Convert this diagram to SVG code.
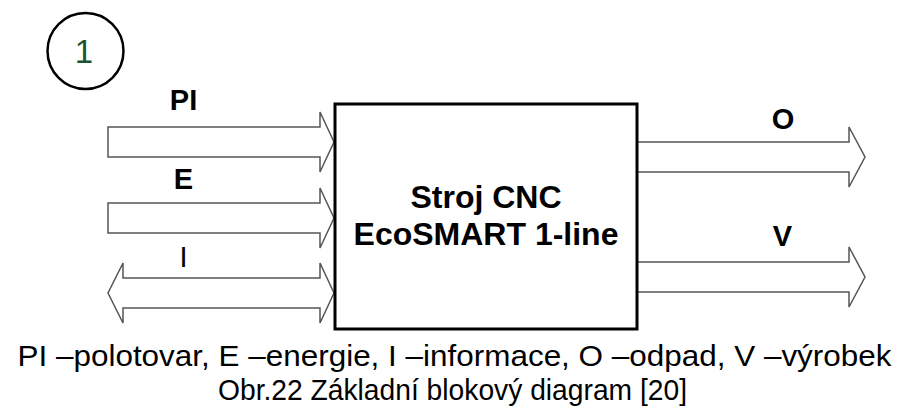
<svg xmlns="http://www.w3.org/2000/svg" width="906" height="410" viewBox="0 0 906 410">
<style>
.arr{fill:#fff;stroke:#555;stroke-width:1.5;stroke-linejoin:miter}
.lbl{font-family:"Liberation Sans",Arial,sans-serif;font-weight:bold;font-size:29px;fill:#000;text-anchor:middle}
.box{font-family:"Liberation Sans",Arial,sans-serif;font-weight:bold;font-size:32px;fill:#000;text-anchor:middle}
.cap{font-family:"Liberation Sans",Arial,sans-serif;font-size:29px;fill:#000;text-anchor:middle}
.cap2{font-family:"Liberation Sans",Arial,sans-serif;font-size:30px;fill:#000;text-anchor:middle}
</style>
<rect width="906" height="410" fill="#fff"/>
<g id="marker1">
<circle cx="85.5" cy="51" r="38" fill="none" stroke="#000" stroke-width="2.5"/>
<text x="84" y="63" font-family="'Liberation Sans',Arial,sans-serif" font-size="33" fill="#1d5530" text-anchor="middle">1</text>
</g>
<g id="connectors">
<polygon class="arr" points="108,127 320,127 320,112 334,142 320,172 320,157 108,157"/>
<polygon class="arr" points="108,203 320,203 320,188 334,218 320,248 320,233 108,233"/>
<polygon class="arr" points="123,278 320,278 320,263 334,293 320,323 320,308 123,308 123,323 108,293 123,263"/>
<polygon class="arr" points="637,142 849,142 849,127 865,157 849,187 849,172 637,172"/>
<polygon class="arr" points="637,262 849,262 849,247 865,277 849,307 849,292 637,292"/>
<text class="lbl" x="183.5" y="110">PI</text>
<text class="lbl" x="183.5" y="189">E</text>
<text class="cap" x="183.5" y="267">I</text>
<text class="lbl" x="783" y="129">O</text>
<text class="lbl" x="782.5" y="246">V</text>
</g>
<g id="machine">
<rect x="335" y="104" width="302" height="225" fill="#fff" stroke="#000" stroke-width="3"/>
<text class="box" x="486" y="208">Stroj CNC</text>
<text class="box" x="486" y="245">EcoSMART 1-line</text>
</g>
<g id="caption">
<text class="cap2" x="454.5" y="366" textLength="874" lengthAdjust="spacingAndGlyphs">PI –polotovar, E –energie, I –informace, O –odpad, V –výrobek</text>
<text class="cap2" x="452.5" y="400" textLength="469" lengthAdjust="spacingAndGlyphs">Obr.22 Základní blokový diagram [20]</text>
</g>
</svg>
